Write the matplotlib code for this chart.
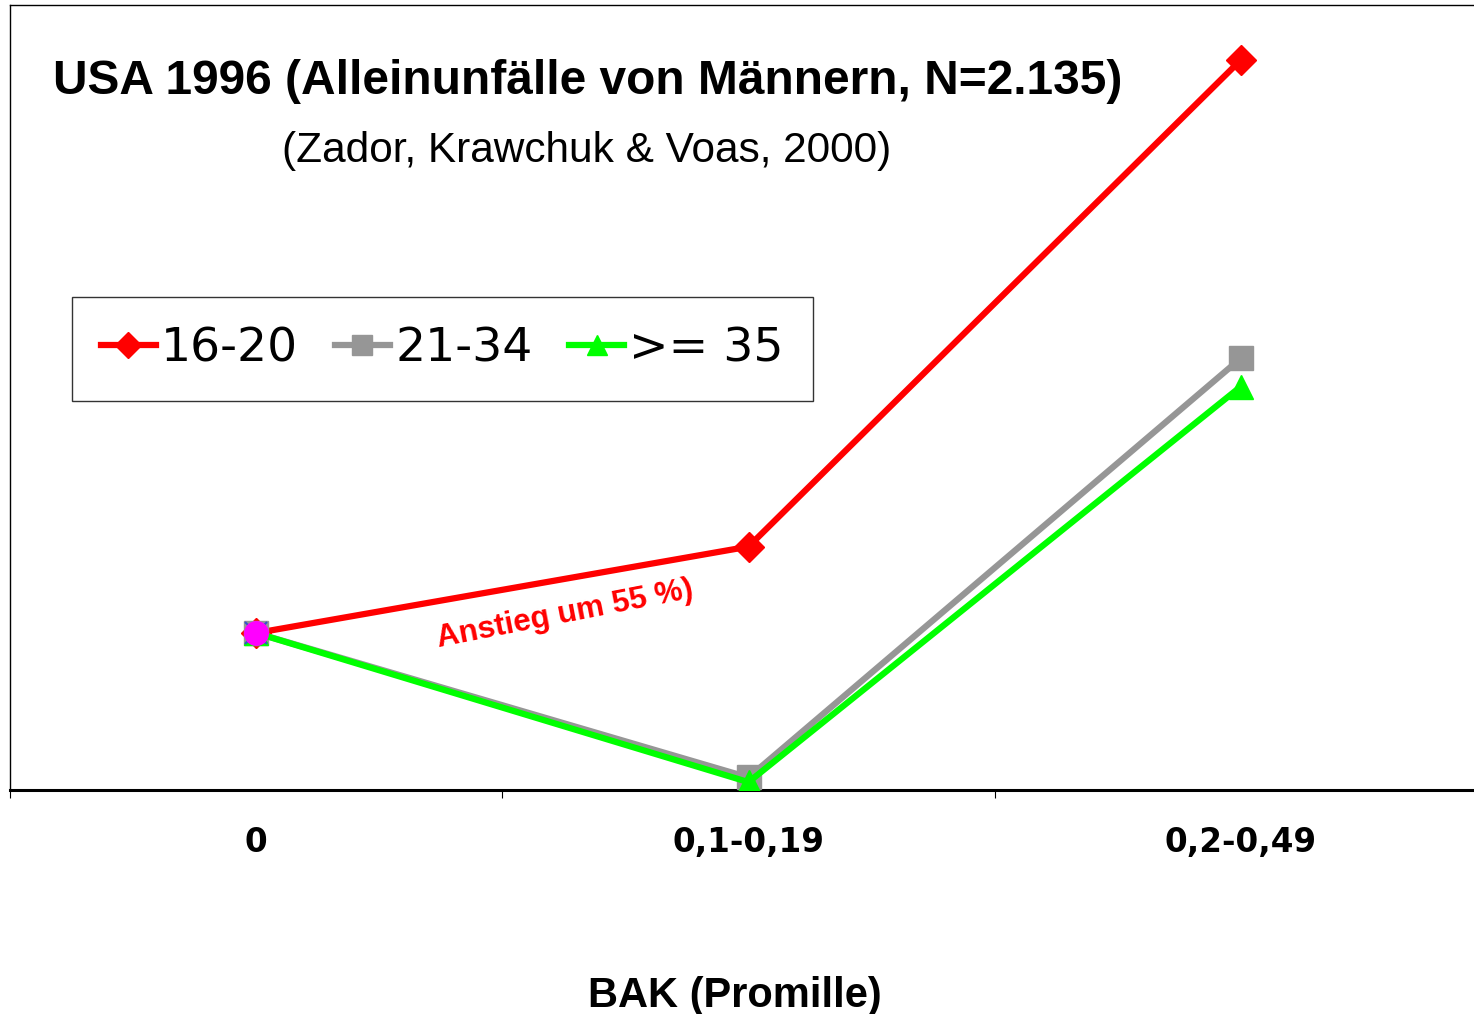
import matplotlib.pyplot as plt

# Kategorien und Werte (relatives Risiko)
kategorien = ['0', '0,1-0,19', '0,2-0,49']
werte_16_20 = [1.0, 1.55, 4.65]
werte_21_34 = [1.0, 0.08, 2.75]
werte_35 = [1.0, 0.05, 2.57]
referenz = [1.0]

fig = plt.figure(figsize=(14.74, 10.14), dpi=100)
ax = fig.add_axes([10 / 1474, 1 - 790 / 1014, 1477 / 1474, 785 / 1014])

x = range(len(kategorien))
ax.plot(x, werte_16_20, color='#ff0000', lw=4.5, marker='D', ms=15,
        label='16-20', zorder=3)
ax.plot(x, werte_21_34, color='#969696', lw=4.5, marker='s', ms=17,
        label='21-34', zorder=4)
ax.plot(x, werte_35, color='#00ff00', lw=4.5, marker='^', ms=17,
        label='>= 35', zorder=5)
ax.plot([0], referenz, ls='none', marker='x', ms=16, mew=1.5,
        color='#3355cc', zorder=6)
ax.plot([0], referenz, ls='none', marker='o', ms=17, color='#ff00ff',
        zorder=7)

ax.set_xlim(-0.5, 2.5)
ax.set_ylim(0, 5)
ax.set_yticks([])
ax.set_xticks([-0.5, 0.5, 1.5, 2.5])
ax.set_xticklabels([])
ax.set_xticks(list(x), minor=True)
ax.set_xticklabels(kategorien, minor=True, fontsize=23.5, fontweight='bold',
                   fontfamily='DejaVu Sans')
ax.tick_params(axis='x', which='major', direction='out', length=6, width=0.8)
ax.tick_params(axis='x', which='minor', length=0, pad=26)

for s in ['left', 'top', 'right']:
    ax.spines[s].set_linewidth(1.0)
ax.spines['bottom'].set_linewidth(2.2)

fig.text(53 / 1474, 1 - 81 / 1014, 'USA 1996 (Alleinunfälle von Männern, N=2.135)',
         fontsize=34.5, fontweight='bold', fontfamily='Liberation Sans',
         ha='left', va='center')
fig.text(587 / 1474, 1 - 151 / 1014, '(Zador, Krawchuk & Voas, 2000)',
         fontsize=30.5, fontfamily='Liberation Sans', ha='center', va='center')

ax.text(0.628, 1.12, 'Anstieg um 55 %)', color='#ff0000', fontsize=22.5,
        fontweight='bold', fontfamily='Liberation Sans', rotation=11,
        ha='center', va='center')

leg = fig.legend(loc='upper left', bbox_to_anchor=(72 / 1474, 1 - 297 / 1014),
                 borderaxespad=0, ncol=3, fontsize=34, frameon=True,
                 fancybox=False, handlelength=1.15, handletextpad=0.12,
                 columnspacing=0.78, borderpad=0.62, markerscale=0.85)
leg.get_frame().set_edgecolor('black')
leg.get_frame().set_linewidth(1.0)

fig.text(735 / 1474, 1 - 996 / 1014, 'BAK (Promille)', fontsize=30,
         fontweight='bold', fontfamily='Liberation Sans', ha='center',
         va='center')

fig.savefig('out.png', dpi=100)
